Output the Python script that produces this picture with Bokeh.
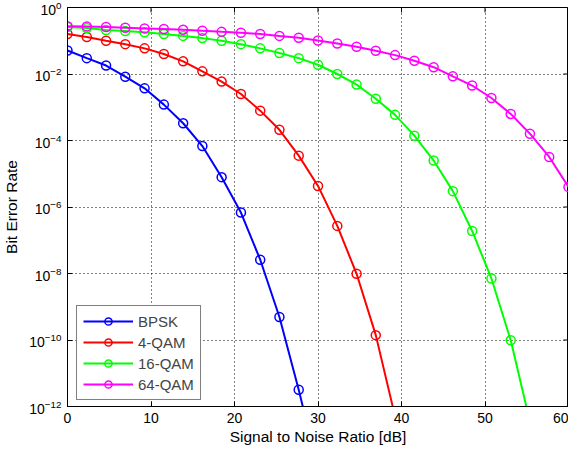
import math
from bokeh.plotting import figure
from bokeh.models import FixedTicker
from bokeh.embed import file_html
from bokeh.resources import INLINE

snr_db = [0.0, 2.31, 4.62, 6.92, 9.23, 11.54, 13.85, 16.15, 18.46, 20.77, 23.08,
          25.38, 27.69, 30.0, 32.31, 34.62, 36.92, 39.23, 41.54, 43.85, 46.15,
          48.46, 50.77, 53.08, 55.38, 57.69, 60.0]

ber_bpsk = [5.1e-2, 3.0e-2, 1.8e-2, 8.3e-3, 3.7e-3, 1.2e-3, 3.3e-4, 6.8e-5, 7.9e-6,
            6.8e-7, 2.6e-8, 4.9e-10, 3.2e-12, 1.3e-14]
ber_4qam = [1.6e-1, 1.3e-1, 1.0e-1, 7.9e-2, 5.9e-2, 4.0e-2, 2.4e-2, 1.2e-2, 5.9e-3,
            2.5e-3, 7.9e-4, 2.1e-4, 3.5e-5, 4.3e-6, 2.7e-7, 9.8e-9, 1.4e-10, 5.0e-13]
ber_16qam = [2.6e-1, 2.4e-1, 2.1e-1, 1.95e-1, 1.8e-1, 1.6e-1, 1.4e-1, 1.2e-1, 1.0e-1,
             7.9e-2, 5.9e-2, 4.3e-2, 3.0e-2, 1.9e-2, 1.0e-2, 4.8e-3, 1.8e-3, 5.9e-4,
             1.4e-4, 2.5e-5, 3.0e-6, 1.9e-7, 7.1e-9, 9.8e-11, 3.5e-13]
ber_64qam = [2.75e-1, 2.7e-1, 2.6e-1, 2.45e-1, 2.35e-1, 2.25e-1, 2.15e-1, 2.0e-1,
             1.85e-1, 1.75e-1, 1.6e-1, 1.4e-1, 1.23e-1, 1.02e-1, 8.3e-2, 6.6e-2,
             5.0e-2, 3.7e-2, 2.5e-2, 1.6e-2, 8.5e-3, 4.5e-3, 1.9e-3, 6.3e-4, 1.6e-4,
             3.2e-5, 4.0e-6]

series_names = ["BPSK", "4-QAM", "16-QAM", "64-QAM"]
series_colors = ["#0000FF", "#FF0000", "#00FF00", "#FF00FF"]
series_values = [ber_bpsk, ber_4qam, ber_16qam, ber_64qam]

x_ticks = [0, 10, 20, 30, 40, 50, 60]
y_ticks = [1e-12, 1e-10, 1e-8, 1e-6, 1e-4, 1e-2, 1e0]
x_min, x_max = 0, 60
y_min, y_max = 1e-12, 1e0
x_title = "Signal to Noise Ratio [dB]"
y_title = "Bit Error Rate"

FONT = "Liberation Sans"
TICK_FS = "14px"
TITLE_FS = "15.5px"

p = figure(width=568, height=447, output_backend="svg", toolbar_location=None,
           y_axis_type="log", x_range=(x_min, x_max), y_range=(y_min, y_max),
           min_border_left=60, min_border_right=0, min_border_top=7,
           min_border_bottom=40)
p.outline_line_color = "black"
p.outline_line_width = 1
p.background_fill_color = "white"

for ax in (p.xaxis[0], p.yaxis[0]):
    ax.major_tick_in = 5
    ax.major_tick_out = 0
    ax.minor_tick_line_color = None
    ax.axis_line_color = "black"
    ax.major_label_text_font = FONT
    ax.major_label_text_font_size = TICK_FS
    ax.major_label_text_color = "black"
    ax.axis_label_text_font = FONT
    ax.axis_label_text_font_size = TITLE_FS
    ax.axis_label_text_font_style = "normal"
    ax.axis_label_text_color = "black"

p.xaxis.ticker = FixedTicker(ticks=x_ticks)
p.yaxis.ticker = FixedTicker(ticks=y_ticks)
p.xaxis.axis_label = x_title
p.yaxis.axis_label = y_title
p.xaxis.major_label_standoff = 6
p.xaxis.axis_label_standoff = 2
p.yaxis.major_label_standoff = 6
p.yaxis.axis_label_standoff = 6

p.xgrid.ticker = FixedTicker(ticks=x_ticks)
p.ygrid.ticker = FixedTicker(ticks=y_ticks)
for g in (p.xgrid[0], p.ygrid[0]):
    g.grid_line_color = "black"
    g.grid_line_dash = "1 3"
    g.grid_line_width = 1

# inward tick marks on the right and top borders (box style)
p.ray(x=[x_max] * len(y_ticks), y=y_ticks, length=5, length_units="screen",
      angle=math.pi, line_color="black", line_width=1)
p.ray(x=x_ticks, y=[y_max] * len(x_ticks), length=5, length_units="screen",
      angle=-math.pi / 2, line_color="black", line_width=1)

for name, color, vals in zip(series_names, series_colors, series_values):
    xs = snr_db[:len(vals)]
    p.line(xs, vals, line_color=color, line_width=2, legend_label=name)
    p.scatter(xs, vals, marker="circle", size=9, line_color=color, line_width=1.5,
              fill_alpha=0, legend_label=name)

lg = p.legend[0]
lg.location = (9, 6)
lg.margin = 0
lg.padding = 6
lg.spacing = 3
lg.glyph_width = 50
lg.glyph_height = 18
lg.label_height = 18
lg.label_standoff = 5
lg.label_text_font = FONT
lg.label_text_font_size = "15px"
lg.border_line_color = "black"
lg.border_line_width = 1
lg.background_fill_alpha = 1

open("out.html", "w").write(file_html(p, INLINE))
